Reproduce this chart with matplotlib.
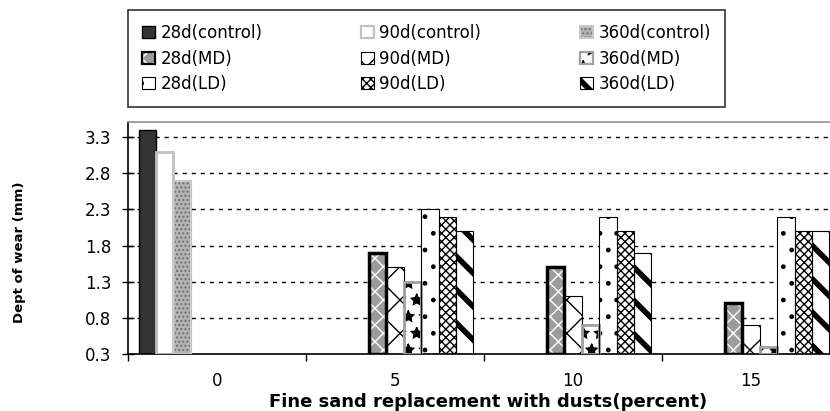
import matplotlib
matplotlib.use("Agg")
import matplotlib.pyplot as plt
from matplotlib.patches import Rectangle
from matplotlib.legend_handler import HandlerTuple
import numpy as np

plt.rcParams['font.family'] = ['DejaVu Sans']

categories = ['0', '5', '10', '15']
series_names = ['28d(control)', '90d(control)', '360d(control)',
                '28d(MD)', '90d(MD)', '360d(MD)',
                '28d(LD)', '90d(LD)', '360d(LD)']
v_28d_control = [3.4, 0, 0, 0]
v_90d_control = [3.1, 0, 0, 0]
v_360d_control = [2.7, 0, 0, 0]
v_28d_md = [0, 1.7, 1.5, 1.0]
v_90d_md = [0, 1.5, 1.1, 0.7]
v_360d_md = [0, 1.3, 0.7, 0.4]
v_28d_ld = [0, 2.3, 2.2, 2.2]
v_90d_ld = [0, 2.2, 2.0, 2.0]
v_360d_ld = [0, 2.0, 1.7, 2.0]
values = [v_28d_control, v_90d_control, v_360d_control,
          v_28d_md, v_90d_md, v_360d_md,
          v_28d_ld, v_90d_ld, v_360d_ld]
y_ticks = [0.3, 0.8, 1.3, 1.8, 2.3, 2.8, 3.3]

# style: (facecolor, hatch, hatchcolor, hatch_lw, edgecolor, edge_lw)
styles = [
    ('#333333', None, '#333333', 1.0, '#000000', 1.0),
    ('#ffffff', None, '#ffffff', 1.0, '#c0c0c0', 2.0),
    ('#b4b4b4', '....', '#6e6e6e', 1.0, '#c8c8c8', 1.5),
    ('#9c9c9c', 'xx', '#ffffff', 1.0, '#000000', 2.5),
    ('#ffffff', 'x', '#000000', 1.0, '#000000', 0.8),
    ('#ffffff', '*', '#000000', 1.0, '#a0a0a0', 2.0),
    ('#ffffff', '.', '#000000', 1.0, '#000000', 0.8),
    ('#ffffff', 'xxxx', '#000000', 1.0, '#000000', 0.8),
    ('#ffffff', '\\', '#000000', 4.0, '#000000', 0.8),
]

fig = plt.figure(figsize=(8.3, 4.11), dpi=100)
ax = fig.add_axes([128/830, 1-354/411, (840-128)/830, (354-122)/411])

x = np.arange(len(categories))
w = 0.0978
bottom = 0.3
handles = []
for j, (vals, st) in enumerate(zip(values, styles)):
    fc, hatch, hc, hlw, ec, elw = st
    heights = [max(v - bottom, 0) for v in vals]
    xpos = x + (j - 4) * w
    with plt.rc_context({'hatch.linewidth': hlw}):
        b1 = ax.bar(xpos, heights, w, bottom=bottom, color=fc, hatch=hatch,
                    edgecolor=hc, linewidth=0, zorder=2)
    for k, p in enumerate(b1):
        if hasattr(p, 'set_hatch_linewidth'):
            p.set_hatch_linewidth(hlw)
        if vals[k] <= 0:
            p.set_visible(False)
    b2 = ax.bar(xpos, heights, w, bottom=bottom, color='none',
                edgecolor=ec, linewidth=elw, zorder=3)
    for k, p in enumerate(b2):
        if vals[k] <= 0:
            p.set_visible(False)
    h1 = Rectangle((0, 0), 1, 1, facecolor=fc, hatch=hatch, edgecolor=hc, linewidth=0)
    h2 = Rectangle((0, 0), 1, 1, facecolor='none', edgecolor=ec, linewidth=min(elw, 1.6))
    handles.append((h1, h2))

ax.set_xlim(-0.5, 3.5)
ax.set_ylim(0.3, 3.51)
ax.set_yticks(y_ticks)
ax.set_yticklabels([f'{t:.1f}' for t in y_ticks], fontsize=12)
for t in y_ticks[1:]:
    ax.axhline(t, color='black', linestyle=(0, (3, 3.5)), linewidth=1.0, zorder=1)

ax.set_xticks(x)
ax.set_xticklabels(categories, fontsize=12)
ax.tick_params(axis='x', which='major', length=0, pad=13)
ax.set_xticks(np.arange(-0.5, 4.0, 1.0), minor=True)
ax.tick_params(axis='x', which='minor', length=5, direction='out', width=1)
ax.tick_params(axis='y', which='major', length=8, direction='inout', width=1, pad=8)

ax.spines['top'].set_color('#909090')
ax.spines['top'].set_linewidth(1.2)
ax.spines['right'].set_visible(False)
ax.spines['left'].set_linewidth(1.2)
ax.spines['bottom'].set_linewidth(1.2)

fig.text(488/830, 1-402/411, 'Fine sand replacement with dusts(percent)',
         ha='center', va='center', fontsize=13, fontweight='bold')
fig.text(20/830, 1-252/411, 'Dept of wear (mm)', rotation=90,
         ha='center', va='center', fontsize=9.5, fontweight='bold')

# legend filled row by row (matplotlib fills columns first)
ncol = 3
nrow = 3
order = [r * ncol + c for c in range(ncol) for r in range(nrow)]
leg = fig.legend([handles[i] for i in order], [series_names[i] for i in order],
                 ncol=ncol, loc='center',
                 bbox_to_anchor=(128/830, 1-107/411, (725-128)/830, 97/411),
                 mode='expand', frameon=True, fancybox=False,
                 edgecolor='black', fontsize=12, handlelength=0.75,
                 handleheight=0.75, handletextpad=0.35, labelspacing=0.45,
                 borderaxespad=0, borderpad=0.85,
                 handler_map={tuple: HandlerTuple(ndivide=1, pad=0)})
leg.get_frame().set_linewidth(1.2)
for i, hart in zip(order, leg.legend_handles):
    if hasattr(hart, 'set_hatch_linewidth'):
        hart.set_hatch_linewidth(styles[i][3])

fig.savefig('out.png', dpi=100)
